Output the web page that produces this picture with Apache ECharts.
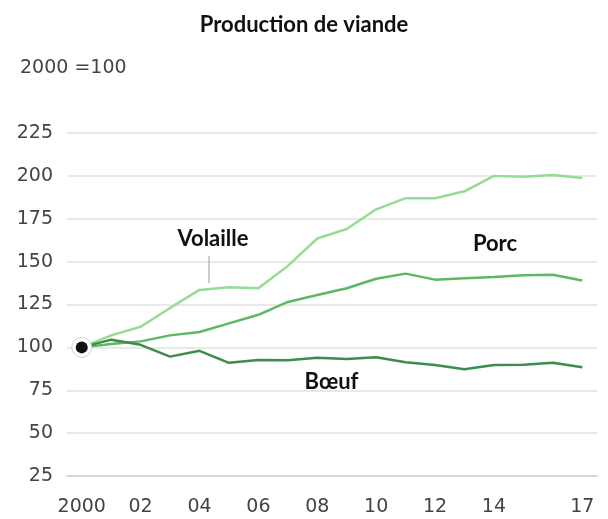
<!DOCTYPE html>
<html>
<head>
<meta charset="utf-8">
<script src="https://cdn.jsdelivr.net/npm/echarts@6/dist/echarts.min.js"></script>
<style>
    html, body { margin: 0; padding: 0; background: #fff; }
    #chart { width: 608px; height: 519px; }
</style>
</head>
<body>
<div id="chart"></div>
<script>
// années (étiquettes de l'axe X)
const years = ['2000', '01', '02', '03', '04', '05', '06', '07', '08',
    '09', '10', '11', '12', '13', '14', '15', '16', '17'];
const shownYears = ['2000', '02', '04', '06', '08', '10', '12', '14', '17'];

// indices 2000 = 100
const volaille = [100, 107, 112, 123, 133.5, 135, 134.5, 147.5, 163.5, 169,
    180.5, 187, 187, 191, 200, 199.5, 200.5, 198.8];
const porc = [100, 102, 103.5, 107, 109, 114, 119, 126.5, 130.5, 134.5,
    140, 143, 139.5, 140.3, 141, 142, 142.3, 139];
const boeuf = [100, 104.5, 101.5, 94.6, 98, 91, 92.7, 92.5, 94, 93.2,
    94.3, 91.3, 89.7, 87.3, 89.7, 89.8, 91, 88.4];

const yTicks = [25, 50, 75, 100, 125, 150, 175, 200, 225];

const labelFont = 'DejaVu Sans';
const noteFont = 'Lato';

const chart = echarts.init(document.getElementById('chart'));

// une étiquette blanche (masque la grille) avec texte gras
const note = (text, x, y, w, h) => ({
    type: 'group',
    z: 100,
    children: [
        { type: 'rect', shape: { x: x, y: y, width: w, height: h }, style: { fill: '#fff' } },
        {
            type: 'text',
            x: x + w / 2, y: y + h / 2,
            style: {
                text: text, fill: '#111', font: 'bold 22px ' + noteFont,
                align: 'center', verticalAlign: 'middle'
            }
        }
    ]
});

const lineSeries = (name, data, color) => ({
    name: name,
    type: 'line',
    data: data,
    showSymbol: false,
    symbol: 'none',
    lineStyle: { color: color, width: 2.5 },
    itemStyle: { color: color },
    z: 3,
});

chart.setOption({
    animation: false,
    title: [
        {
            text: 'Production de viande',
            left: 'center', top: 9,
            textStyle: { fontFamily: noteFont, fontWeight: 'bold', fontSize: 22, color: '#111' }
        },
        {
            text: '2000 =100',
            left: 15, top: 54,
            textStyle: { fontFamily: labelFont, fontWeight: 'normal', fontSize: 19, color: '#444' }
        }
    ],
    grid: { left: 67, right: 11, top: 133, bottom: 43 },
    xAxis: {
        type: 'category',
        data: years,
        boundaryGap: true,
        axisLine: { lineStyle: { color: '#d0d0d0', width: 1.5 } },
        axisTick: { interval: 0, length: 8, lineStyle: { color: '#d0d0d0', width: 1.5 } },
        axisLabel: {
            interval: (i) => shownYears.indexOf(years[i]) >= 0,
            margin: 22,
            fontFamily: labelFont, fontSize: 19, color: '#444'
        },
        splitLine: { show: false }
    },
    yAxis: {
        type: 'value',
        min: yTicks[0],
        max: yTicks[yTicks.length - 1],
        interval: 25,
        axisLine: { show: false },
        axisTick: { show: false },
        axisLabel: { margin: 14, fontFamily: labelFont, fontSize: 19, color: '#444' },
        splitLine: { lineStyle: { color: '#e2e2e2', width: 1.5 } }
    },
    series: [
        lineSeries('Volaille', volaille, '#94dd94'),
        lineSeries('Porc', porc, '#5cb862'),
        Object.assign(lineSeries('Bœuf', boeuf, '#3c8c4a'), {
            markPoint: {
                silent: true,
                label: { show: false },
                data: [
                    {
                        coord: [years[0], 100], symbol: 'circle', symbolSize: 20,
                        itemStyle: { color: '#fff', borderColor: '#cfcfcf', borderWidth: 1 }
                    },
                    {
                        coord: [years[0], 100], symbol: 'circle', symbolSize: 12,
                        itemStyle: { color: '#111' }
                    }
                ]
            }
        })
    ],
    graphic: [
        note('Porc', 398, 224, 194, 40),
        note('Bœuf', 265, 367, 133, 29),
        { type: 'rect', z: 100, shape: { x: 174, y: 228, width: 80, height: 22 }, style: { fill: '#fff' } },
        {
            type: 'text', z: 101, x: 213, y: 239,
            style: { text: 'Volaille', fill: '#111', font: 'bold 22px ' + noteFont, align: 'center', verticalAlign: 'middle' }
        },
        {
            type: 'line', z: 100,
            shape: { x1: 209, y1: 256, x2: 209, y2: 283 },
            style: { stroke: '#bbb', lineWidth: 1.5 }
        }
    ]
});
</script>
</body>
</html>
